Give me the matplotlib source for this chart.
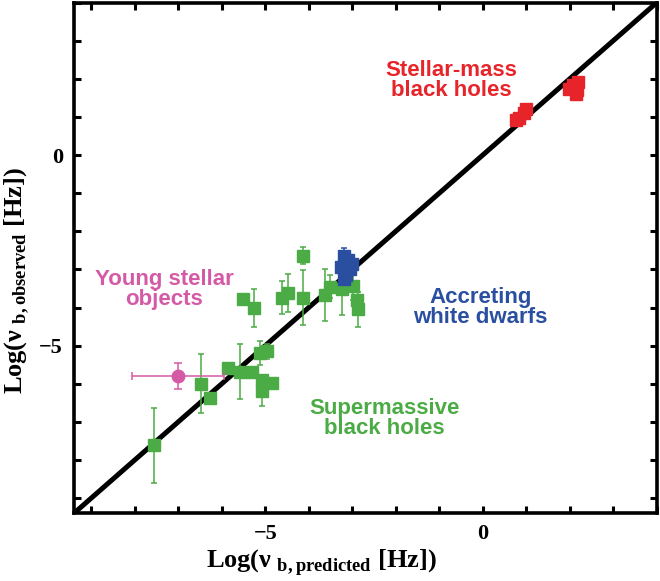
import matplotlib
matplotlib.use("Agg")
import matplotlib.pyplot as plt
from matplotlib.ticker import MultipleLocator

plt.rcParams['mathtext.fontset'] = 'custom'
plt.rcParams['mathtext.rm'] = 'Liberation Serif:bold'
plt.rcParams['mathtext.bf'] = 'Liberation Serif:bold'

# Supermassive black holes (green)
smbh_x = [-7.55, -6.47, -6.26, -5.86, -5.59, -5.31, -5.13, -4.96, -5.08, -5.08, -4.84,
          -5.52, -5.27, -4.61, -4.47, -4.14, -4.14, -3.63, -3.51, -3.23, -2.99, -2.90, -2.87]
smbh_y = [-7.62, -6.00, -6.37, -5.59, -5.68, -5.68, -5.20, -5.15, -5.89, -6.20, -5.98,
          -3.77, -4.02, -3.74, -3.63, -2.64, -3.74, -3.67, -3.45, -3.51, -3.44, -3.79, -4.05]
smbh_err = [0.98, 0.78, 0.0, 0.0, 0.73, 0.0, 0.32, 0.20, 0.0, 0.38, 0.0,
            0.0, 0.50, 0.44, 0.50, 0.22, 0.72, 0.68, 0.30, 0.69, 0.36, 0.0, 0.45]

# Accreting white dwarfs (blue)
awd_x = [-3.20, -3.10, -3.25, -3.05, -3.15, -3.00, -3.20]
awd_y = [-2.65, -2.75, -2.95, -3.00, -3.15, -2.85, -3.25]
awd_err = [0.20, 0.0, 0.0, 0.0, 0.0, 0.0, 0.0]

# Stellar-mass black holes (red)
sbh_x = [0.77, 0.84, 1.00, 0.95, 2.07, 2.15, 2.18, 1.99, 2.17]
sbh_y = [0.91, 0.96, 1.22, 1.10, 1.83, 1.61, 1.91, 1.74, 1.72]

# Young stellar objects (pink)
yso_x = [-7.00]
yso_y = [-5.80]
yso_xerr = [1.06]
yso_yerr = [0.35]

lim = [-9.4, 4.0]
tick_major = [-5, 0]
tick_labels = ['\u22125', '0']

green = '#4bab45'
blue = '#2a4ea0'
red = '#e8242b'
pink = '#d55aa6'

fig = plt.figure(figsize=(6.6, 5.81), dpi=100)
ax = fig.add_axes([0.112, 0.1165, 0.883, 0.879])

ax.plot(lim, lim, color='black', lw=3.6, zorder=2, solid_capstyle='butt')

ax.errorbar(smbh_x, smbh_y, yerr=smbh_err, fmt='s', color=green, ms=8,
            elinewidth=1.1, capsize=2.5, capthick=1.1, zorder=3)
ax.errorbar(awd_x, awd_y, yerr=awd_err, fmt='s', color=blue, ms=8,
            elinewidth=1.1, capsize=2.0, capthick=1.1, zorder=4)
ax.plot(sbh_x, sbh_y, 's', color=red, ms=8, zorder=4)
ax.errorbar(yso_x, yso_y, xerr=yso_xerr, yerr=yso_yerr, fmt='o', color=pink,
            ms=9, elinewidth=1.1, capsize=3, capthick=1.1, zorder=4)

ax.set_xlim(lim)
ax.set_ylim(lim)
ax.set_xticks(tick_major)
ax.set_yticks(tick_major)
ax.set_xticklabels(tick_labels)
ax.set_yticklabels(tick_labels)
ax.xaxis.set_minor_locator(MultipleLocator(1))
ax.yaxis.set_minor_locator(MultipleLocator(1))
for which in ('major', 'minor'):
    ax.tick_params(which=which, direction='in', length=5, width=2.2,
                   top=True, right=True, pad=8)
for lbl in ax.get_xticklabels() + ax.get_yticklabels():
    lbl.set_fontfamily('Liberation Serif')
    lbl.set_fontweight('bold')
    lbl.set_fontsize(16)
for s in ax.spines.values():
    s.set_linewidth(2.6)

ax.set_xlabel('Log(\u03bd$_{\\ \\mathrm{b,predicted}}$ [Hz])', family='Liberation Serif',
              fontweight='bold', fontsize=19)
ax.set_ylabel('Log(\u03bd$_{\\ \\mathrm{b,observed}}$ [Hz])', family='Liberation Serif',
              fontweight='bold', fontsize=19)
ax.xaxis.set_label_coords(0.425, -0.066)
ax.yaxis.set_label_coords(-0.072, 0.455)

tkw = dict(family='Liberation Sans', fontweight='bold', fontsize=16,
           ha='center', va='center', linespacing=0.95)
ax.text(-0.72, 1.96, 'Stellar-mass\nblack holes', color=red, **tkw)
ax.text(-7.32, -3.52, 'Young stellar\nobjects', color=pink, **tkw)
ax.text(-0.05, -4.0, 'Accreting\nwhite dwarfs', color=blue, **tkw)
ax.text(-2.26, -6.92, 'Supermassive\nblack holes', color=green, **tkw)

fig.savefig('out.png', dpi=100)
